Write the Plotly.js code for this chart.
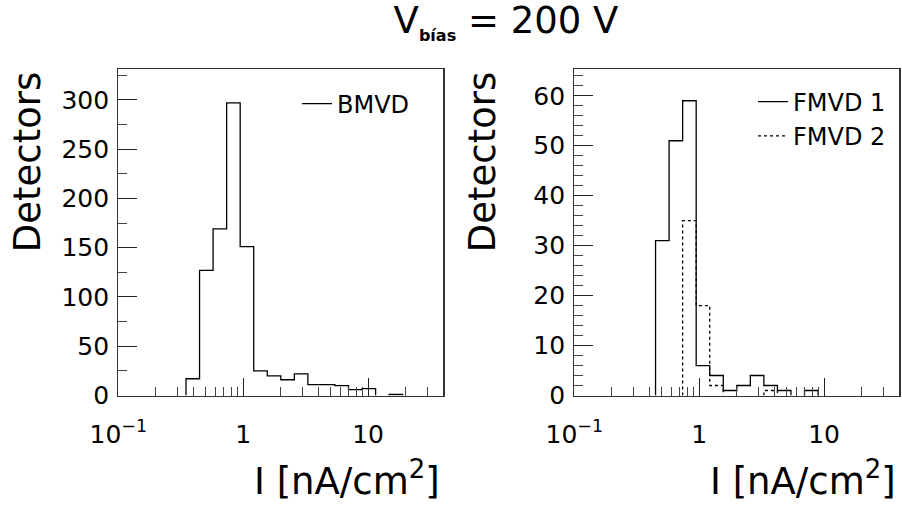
<!DOCTYPE html>
<html>
<head>
<meta charset="utf-8">
<script src="https://cdn.plot.ly/plotly-3.0.1.min.js"></script>
<style>
html,body{margin:0;padding:0;background:#fff;}
#chart{width:902px;height:506px;}
</style>
</head>
<body>
<div id="chart"></div>
<script>
// Bin edges (24 log-spaced bins from 0.1 to 40 nA/cm^2)
const binEdges = [0.1, 0.1284, 0.1648, 0.2115, 0.2715, 0.3484, 0.4472, 0.5741, 0.7369, 0.9457,
                  1.2139, 1.558, 2.0, 2.567, 3.295, 4.23, 5.429, 6.969, 8.944, 11.48,
                  14.74, 18.91, 24.28, 31.16, 40.0];
// Counts per bin
const bmvd  = [0,0,0,0,0,17,127,169,297,151,25,20,16,22,11,11,10,6,7,0,1,0,0,0];
const fmvd1 = [0,0,0,0,0,0,31,51,59,6,4,1,2,4,2,1,0,1,0,0,0,0,0,0];
const fmvd2 = [0,0,0,0,0,0,0,0,35,18,2,0,0,0,1,0,0,0,0,0,0,0,0,0];
// Tick labels
const xTickVals = [0.1, 1, 10];
const xTickText = ['10<sup>−1</sup>', '1', '10'];
const xMinorVals = [0.2,0.3,0.4,0.5,0.6,0.7,0.8,0.9,2,3,4,5,6,7,8,9,20,30];
const titleText = 'V<sub><span style="font-size:16px"><b>bías</b></span></sub> = 200 V';
const xTitle = 'I [nA/cm<sup>2</sup>]';
const yTitle = 'Detectors';

// Histogram outline; runs of empty bins along the baseline are left undrawn
function outline(counts){
  const x = [], y = [];
  let prev = 0;
  for (let i = 0; i < counts.length; i++){
    const c = counts[i];
    if (c === 0 && prev === 0) continue;
    if (c > 0 && prev === 0 && x.length > 0){ x.push(null); y.push(null); }
    x.push(binEdges[i]); y.push(prev);
    x.push(binEdges[i]); y.push(c);
    if (c > 0){ x.push(binEdges[i+1]); y.push(c); }
    prev = c;
  }
  if (prev > 0){ x.push(binEdges[counts.length]); y.push(0); }
  return {x, y};
}

const FONT = 'DejaVu Sans, Liberation Sans, Arial, sans-serif';
const s1 = outline(bmvd), s2 = outline(fmvd1), s3 = outline(fmvd2);

const traces = [
  {x: s1.x, y: s1.y, type:'scatter', mode:'lines', connectgaps:false, line:{color:'#000', width:1.3},
   name:'BMVD', xaxis:'x', yaxis:'y', legend:'legend', hoverinfo:'skip'},
  {x: s2.x, y: s2.y, type:'scatter', mode:'lines', connectgaps:false, line:{color:'#000', width:1.3},
   name:'FMVD 1', xaxis:'x2', yaxis:'y2', legend:'legend2', hoverinfo:'skip'},
  {x: s3.x, y: s3.y, type:'scatter', mode:'lines', connectgaps:false, line:{color:'#000', width:1.3, dash:'dot'},
   name:'FMVD 2', xaxis:'x2', yaxis:'y2', legend:'legend2', hoverinfo:'skip'}
];

function xAxis(domain, anchor){
  return {
    type:'log', range:[-1, Math.log10(40)], domain: domain, anchor: anchor,
    showline:true, mirror:true, linecolor:'#333', linewidth:1.2,
    showgrid:false, zeroline:false, layer:'above traces',
    ticks:'inside', ticklen:18, tickcolor:'#222', tickwidth:1,
    tickmode:'array', tickvals:xTickVals, ticktext:xTickText,
    tickfont:{family:FONT, size:25, color:'#000'},
    ticklabelstandoff: 16,
    minor:{tickmode:'array', tickvals:xMinorVals, ticks:'inside', ticklen:9, tickcolor:'#444', tickwidth:1, showgrid:false}
  };
}
function yAxis(domain, anchor, range, dtick, mdtick){
  return {
    range: range, domain: domain, anchor: anchor,
    showline:true, mirror:true, linecolor:'#333', linewidth:1.2,
    showgrid:false, zeroline:false,
    ticks:'inside', ticklen:19, tickcolor:'#222', tickwidth:1,
    tickmode:'linear', tick0:0, dtick: dtick,
    tickfont:{family:FONT, size:25, color:'#000'},
    ticklabelstandoff: 3,
    minor:{tickmode:'linear', tick0:0, dtick: mdtick, ticks:'inside', ticklen:9, tickcolor:'#444', tickwidth:1, showgrid:false}
  };
}

const yDom = [110.5/506, 436.7/506];
const layout = {
  width:902, height:506,
  margin:{l:0, r:0, t:0, b:0},
  paper_bgcolor:'#fff', plot_bgcolor:'#fff',
  font:{family:FONT, color:'#000'},
  title:{text:titleText, font:{family:FONT, size:37, color:'#000'},
         x:506/902, xanchor:'center', y:1-20/506, yanchor:'middle'},
  xaxis: xAxis([118.3/902, 443.3/902], 'y'),
  yaxis: yAxis(yDom, 'x', [0, 331], 50, 25),
  xaxis2: xAxis([574.3/902, 899.3/902], 'y2'),
  yaxis2: yAxis(yDom, 'x2', [0, 65.3], 10, 2),
  showlegend:true,
  legend:{x:297/902, xanchor:'left', y:1-104/506, yanchor:'middle', bgcolor:'rgba(0,0,0,0)',
          borderwidth:0, font:{family:FONT, size:24, color:'#000'}},
  legend2:{x:753/902, xanchor:'left', y:1-119/506, yanchor:'middle', bgcolor:'rgba(0,0,0,0)',
           borderwidth:0, font:{family:FONT, size:24, color:'#000'}},
  annotations:[
    {text:yTitle, xref:'paper', yref:'paper', x:27.5/902, y:1-161.7/506, textangle:-90,
     xanchor:'center', yanchor:'middle', showarrow:false, font:{family:FONT, size:37, color:'#000'}},
    {text:yTitle, xref:'paper', yref:'paper', x:482.5/902, y:1-161.7/506, textangle:-90,
     xanchor:'center', yanchor:'middle', showarrow:false, font:{family:FONT, size:37, color:'#000'}},
    {text:xTitle, xref:'paper', yref:'paper', x:442/902, y:1-478/506,
     xanchor:'right', yanchor:'middle', showarrow:false, font:{family:FONT, size:37, color:'#000'}},
    {text:xTitle, xref:'paper', yref:'paper', x:898/902, y:1-478/506,
     xanchor:'right', yanchor:'middle', showarrow:false, font:{family:FONT, size:37, color:'#000'}}
  ]
};

Plotly.newPlot('chart', traces, layout, {staticPlot:true, displayModeBar:false});
</script>
</body>
</html>
